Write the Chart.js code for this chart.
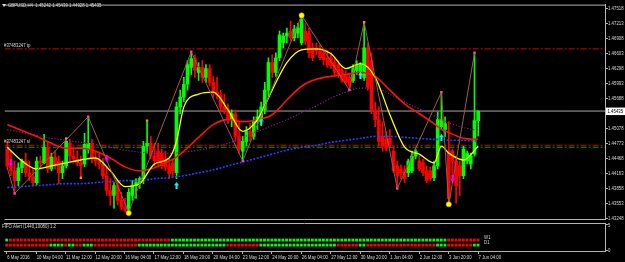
<!DOCTYPE html>
<html><head><meta charset="utf-8">
<script src="https://cdn.jsdelivr.net/npm/chart.js@4.4.1/dist/chart.umd.min.js"></script>
<style>
html,body{margin:0;padding:0;background:#000;width:625px;height:262px;overflow:hidden;}
canvas{position:absolute;left:0;}
#main{top:0;}
#sub{top:219px;}
</style></head><body>
<canvas id="main" width="625" height="224"></canvas>
<canvas id="sub" width="625" height="43"></canvas>
<script>
// ---------------- DATA ----------------
const symbol = "GBPUSD,H4";
const ticket = "37483247";
const indicatorName = "FIFO Alert (1440,10080) 1.2";
const rowNames = ["W1", "D1"];
const rowLevels = [2, 1];
const subTicks = [0, 5];

const opens = [1.4466,1.4432,1.4422,1.4402,1.4428,1.4442,1.4418,1.4410,1.4398,1.4442,
1.4438,1.4470,1.4426,1.4450,1.4442,1.4418,1.4432,1.4478,1.4452,1.4446,
1.4438,1.4436,1.4466,1.4478,1.4446,1.4442,1.4436,1.4412,1.4382,1.4372,
1.4392,1.4362,1.4348,1.4342,1.4372,1.4392,1.4398,1.4406,1.4472,1.4478,
1.4452,1.4462,1.4458,1.4446,1.4432,1.4438,1.4418,1.4552,1.4572,1.4598,
1.4632,1.4650,1.4622,1.4632,1.4612,1.4630,1.4602,1.4582,1.4576,1.4552,
1.4546,1.4526,1.4538,1.4492,1.4462,1.4482,1.4502,1.4492,1.4522,1.4526,
1.4546,1.4586,1.4642,1.4622,1.4652,1.4682,1.4696,1.4706,1.4692,1.4702,
1.4682,1.4706,1.4702,1.4672,1.4672,1.4666,1.4662,1.4652,1.4652,1.4642,
1.4638,1.4626,1.4618,1.4612,1.4606,1.4626,1.4622,1.4612,1.4672,1.4646,
1.4546,1.4526,1.4492,1.4486,1.4488,1.4462,1.4432,1.4426,1.4422,1.4418,
1.4422,1.4452,1.4442,1.4438,1.4422,1.4422,1.4408,1.4432,1.4512,1.4506,
1.4462,1.4462,1.4442,1.4432,1.4412,1.4442,1.4436,1.4456,1.45242];
const highs = [1.4482,1.4462,1.4442,1.4438,1.4446,1.4458,1.4442,1.4426,1.4450,1.4452,
1.4496,1.4482,1.4458,1.4462,1.4452,1.4442,1.4488,1.4486,1.4466,1.4462,
1.4452,1.4498,1.4532,1.4486,1.4462,1.4458,1.4448,1.4432,1.4406,1.4398,
1.4402,1.4378,1.4366,1.4386,1.4402,1.4406,1.4410,1.4482,1.4524,1.4492,
1.4478,1.4478,1.4466,1.4462,1.4446,1.4446,1.4562,1.4586,1.4612,1.4646,
1.4664,1.4658,1.4642,1.4646,1.4638,1.4638,1.4614,1.4612,1.4586,1.4578,
1.4558,1.4546,1.4546,1.4522,1.4492,1.4512,1.4518,1.4532,1.4546,1.4562,
1.4602,1.4652,1.4658,1.4662,1.4706,1.4702,1.4712,1.4726,1.4718,1.4722,
1.4738,1.4722,1.4712,1.4682,1.4682,1.4678,1.4670,1.4666,1.4662,1.4652,
1.4646,1.4634,1.4626,1.4618,1.4638,1.4646,1.4642,1.4724,1.4682,1.4662,
1.4562,1.4552,1.4522,1.4502,1.4506,1.4472,1.4442,1.4434,1.4432,1.4446,
1.4462,1.4466,1.4452,1.4446,1.4432,1.4430,1.4442,1.4542,1.4582,1.4532,
1.4522,1.4466,1.4452,1.4442,1.4472,1.4462,1.4458,1.4662,1.45439];
const lows = [1.4426,1.4412,1.4376,1.4392,1.4418,1.4410,1.4402,1.4392,1.4394,1.4428,
1.4436,1.4418,1.4422,1.4426,1.4396,1.4406,1.4428,1.4442,1.4438,1.4432,
1.4408,1.4430,1.4458,1.4438,1.4432,1.4426,1.4406,1.4372,1.4352,1.4346,
1.4352,1.4342,1.4338,1.4338,1.4362,1.4366,1.4386,1.4396,1.4458,1.4446,
1.4432,1.4430,1.4426,1.4422,1.4406,1.4410,1.4406,1.4538,1.4562,1.4586,
1.4618,1.4612,1.4606,1.4602,1.4602,1.4594,1.4572,1.4568,1.4542,1.4538,
1.4518,1.4512,1.4482,1.4458,1.4442,1.4472,1.4482,1.4486,1.4506,1.4514,
1.4538,1.4572,1.4612,1.4614,1.4646,1.4672,1.4682,1.4686,1.4686,1.4692,
1.4678,1.4678,1.4652,1.4646,1.4658,1.4648,1.4638,1.4632,1.4630,1.4614,
1.4612,1.4602,1.4598,1.4586,1.4602,1.4618,1.4612,1.4606,1.4586,1.4538,
1.4512,1.4472,1.4462,1.4462,1.4470,1.4418,1.4386,1.4406,1.4398,1.4410,
1.4418,1.4446,1.4422,1.4412,1.4398,1.4402,1.4402,1.4426,1.4506,1.4492,
1.4354,1.4412,1.4356,1.4372,1.4406,1.4436,1.4426,1.4452,1.44928];
const closes = [1.4432,1.4422,1.4402,1.4428,1.4442,1.4418,1.4410,1.4398,1.4442,1.4438,
1.4470,1.4426,1.4450,1.4434,1.4418,1.4432,1.4482,1.4452,1.4446,1.4438,
1.4432,1.4476,1.4478,1.4446,1.4442,1.4436,1.4412,1.4382,1.4372,1.4392,
1.4362,1.4348,1.4342,1.4378,1.4392,1.4398,1.4406,1.4472,1.4478,1.4452,
1.4442,1.4438,1.4432,1.4430,1.4416,1.4422,1.4552,1.4572,1.4598,1.4638,
1.4650,1.4626,1.4632,1.4612,1.4630,1.4602,1.4582,1.4576,1.4552,1.4546,
1.4526,1.4538,1.4492,1.4466,1.4482,1.4502,1.4492,1.4522,1.4532,1.4552,
1.4586,1.4642,1.4622,1.4652,1.4698,1.4696,1.4702,1.4692,1.4710,1.4712,
1.4730,1.4686,1.4662,1.4652,1.4666,1.4652,1.4648,1.4638,1.4636,1.4622,
1.4618,1.4606,1.4602,1.4596,1.4630,1.4638,1.4638,1.4672,1.4592,1.4546,
1.4526,1.4482,1.4472,1.4468,1.4476,1.4422,1.4412,1.4418,1.4406,1.4442,
1.4452,1.4462,1.4426,1.4418,1.4402,1.4406,1.4432,1.4526,1.4526,1.4518,
1.4366,1.4442,1.4392,1.4412,1.4466,1.4458,1.4452,1.4524,1.45435];

// moving averages read at sample bars
const maBars    = [0,4,8,12,16,20,24,28,32,36,40,44,46,48,52,56,60,64,68,72,76,80,84,88,92,96,100,104,108,112,116,118,120,124,128];
const yellowMA  = [1.4470,1.4442,1.4426,1.4432,1.4438,1.4444,1.4448,1.4422,1.4390,1.4396,1.4436,1.4448,1.4482,1.4552,1.4578,1.4582,1.4546,1.4502,1.4526,1.4586,1.4642,1.4668,1.4670,1.4660,1.4630,1.4640,1.4612,1.4536,1.4470,1.4456,1.4438,1.4472,1.4458,1.4444,1.4472];
const redMA     = [1.4516,1.4504,1.4492,1.4478,1.4468,1.4468,1.4462,1.4448,1.4430,1.4422,1.4428,1.4442,1.4450,1.4462,1.4490,1.4516,1.4526,1.4522,1.4526,1.4536,1.4566,1.4594,1.4608,1.4614,1.4618,1.4622,1.4614,1.4586,1.4558,1.4538,1.4518,1.4506,1.4500,1.4488,1.4486];
const purpleMA  = [1.4506,1.4500,1.4494,1.4488,1.4484,1.4480,1.4476,1.4470,1.4464,1.4460,1.4458,1.4458,1.4458,1.4460,1.4464,1.4470,1.4478,1.4490,1.4502,1.4514,1.4526,1.4540,1.4554,1.4570,1.4582,1.4590,1.4590,1.4578,1.4562,1.4548,1.4534,1.4526,1.4520,1.4510,1.4504];
const blueMA    = [1.4388,1.4390,1.4392,1.4394,1.4396,1.4396,1.4398,1.4400,1.4402,1.4402,1.4406,1.4408,1.4410,1.4412,1.4418,1.4424,1.4432,1.4440,1.4448,1.4456,1.4464,1.4470,1.4474,1.4480,1.4484,1.4488,1.4492,1.4492,1.4490,1.4488,1.4486,1.4486,1.4484,1.4484,1.4482];

// zigzag
const zzBars   = [0,2,22,33,50,64,80,93,97,106,118,120,127];
const zzValues = [1.4428,1.4376,1.4532,1.4338,1.4664,1.4442,1.4738,1.4586,1.4724,1.4386,1.4582,1.4354,1.4662];

// markers
const yellowDotBars = [33,80,120];
const yellowDotVals = [1.4336,1.4738,1.4354];
const pinkDotBars = [2,22,50,64,93,106,118,127];
const pinkDotVals = [1.4376,1.4532,1.4664,1.4442,1.4586,1.4386,1.4582,1.4662];
const orangeDotBars = [16,20,38,97];
const orangeDotVals = [1.4488,1.4408,1.4524,1.4724];
const upArrowBars = [46,69,96,118];
const upArrowVals = [1.4392,1.4522,1.4616,1.4490];
const downArrowBars = [1,27,121];
const downArrowVals = [1.4438,1.4448,1.4406];

// order levels
const tpLevel = 1.4670;
const slLevel = 1.4474;
const openLevel = 1.4470;

// axis labels
const priceTicks = [1.47518,1.47213,1.46908,1.46603,1.46298,1.45993,1.45688,1.45383,1.45078,1.44773,1.44468,1.44163,1.43858,1.43553,1.43248];
const timeLabels = ["6 May 2016","10 May 04:00","11 May 12:00","12 May 20:00","16 May 04:00","17 May 12:00","18 May 20:00","20 May 04:00","23 May 12:00","24 May 20:00","26 May 04:00","27 May 12:00","30 May 20:00","1 Jun 04:00","2 Jun 12:00","3 Jun 20:00","7 Jun 04:00"];
const timeLabelStep = 8;

// indicator states (1 = up/green, 0 = down/red)
const w1State = "1 0000000000 0000000000 0000000000 0000000000 0000 1111111111 1111111111 1111111111 1111111111 1111111111 1111111111 1111111111 11111 000000000";
const d1State = "0000000000 00 1111 0 11 00 111 0000000000 00 1111111111 1111111111 1111 000000000 1111111111 1111111111 1 000000 11 0000000000 000000000 111 0000000 11";

// ---------------- RENDER ----------------
const FONT = "'Liberation Sans',Arial,sans-serif";
const FSIZE = 6;
const SX = 0.72;
const TXT = '#d8d8d8';
const FRAME = '#b4b4b4';
const X_MIN = -0.73, X_MAX = 162.47;
Chart.defaults.font.family = FONT;
Chart.defaults.animation = false;

const bars = opens.map((_, i) => i);
const lastBar = bars.length - 1;
const lastClose = closes[lastBar];
const candleColors = bars.map(i => closes[i] >= opens[i] ? '#00ff00' : '#ff0000');
const pts = (xs, ys) => xs.map((x, i) => ({x, y: ys[i]}));
const flat = v => [{x: X_MIN, y: v}, {x: X_MAX, y: v}];
const states = s => s.replace(/ /g, '').split('').map(Number);

function txt(ctx, s, x, y, color) {
  ctx.save();
  ctx.translate(x, y); ctx.scale(SX, 1);
  ctx.font = `${FSIZE}px ${FONT}`; ctx.textBaseline = 'middle'; ctx.textAlign = 'left';
  ctx.fillStyle = color || TXT; ctx.fillText(s, 0, 0);
  ctx.restore();
}

function arrowImg(color, up) {
  const c = document.createElement('canvas'); c.width = 5; c.height = 7;
  const g = c.getContext('2d'); g.fillStyle = color; g.beginPath();
  if (up) { g.moveTo(2.5, 0); g.lineTo(5, 3.3); g.lineTo(0, 3.3); }
  else { g.moveTo(2.5, 7); g.lineTo(5, 3.7); g.lineTo(0, 3.7); }
  g.closePath(); g.fill();
  if (up) g.fillRect(1.5, 3, 2, 4); else g.fillRect(1.5, 0, 2, 4);
  return c;
}

const levelLine = (v, color, dash, order) => ({type: 'line', data: flat(v), borderColor: color, borderWidth: 1, borderDash: dash, pointRadius: 0, order});
const maLine = (ys, color, w, dash, order) => ({type: 'line', data: pts(maBars, ys), borderColor: color, borderWidth: w, borderDash: dash, pointRadius: 0, cubicInterpolationMode: 'monotone', order});
const markers = (xs, ys, opts, order) => Object.assign({type: 'line', showLine: false, data: pts(xs, ys), order, pointBorderWidth: 0}, opts);

const yAxisOpts = (min, max, ticks) => ({
  type: 'linear', position: 'right', min, max,
  afterBuildTicks: s => { s.ticks = ticks.map(v => ({value: v})); },
  afterFit: s => { s.width = 20; s.paddingTop = 0; s.paddingBottom = 0; },
  grid: {drawOnChartArea: false, drawTicks: true, tickLength: 3, color: FRAME},
  border: {display: true, color: FRAME},
  ticks: {display: false}
});

const mainDecor = {
  id: 'mainDecor',
  afterDraw(chart) {
    const {ctx, chartArea: a, scales: {y}} = chart;
    ctx.save();
    ctx.strokeStyle = FRAME; ctx.lineWidth = 1;
    ctx.beginPath();
    ctx.moveTo(a.left, a.top + 0.5); ctx.lineTo(a.right, a.top + 0.5);
    ctx.moveTo(a.left, a.bottom + 0.5); ctx.lineTo(a.right, a.bottom + 0.5);
    ctx.stroke();
    ctx.fillStyle = TXT;
    ctx.beginPath(); ctx.moveTo(2, 4); ctx.lineTo(6, 4); ctx.lineTo(4, 7); ctx.closePath(); ctx.fill();
    ctx.restore();
    const f = v => v.toFixed(5);
    txt(ctx, `${symbol}  ${f(opens[lastBar])} ${f(highs[lastBar])} ${f(lows[lastBar])} ${f(closes[lastBar])}`, 8, 5.5);
    txt(ctx, `#${ticket} tp`, 4, y.getPixelForValue(tpLevel) - 3.5);
    txt(ctx, `#${ticket} sl`, 4, y.getPixelForValue(slLevel) - 3.5);
    priceTicks.forEach(v => txt(ctx, f(v), a.right + 3, y.getPixelForValue(v)));
    const py = y.getPixelForValue(lastClose);
    ctx.save(); ctx.fillStyle = '#ffffff'; ctx.fillRect(a.right + 1, py - 3.5, 20, 7.5); ctx.restore();
    txt(ctx, f(lastClose), a.right + 2.5, py + 0.3, '#000000');
  }
};

new Chart(document.getElementById('main'), {
  type: 'bar',
  data: {datasets: [
    levelLine(tpLevel, '#d80000', [6, 2, 2, 2], 40),
    levelLine(slLevel, '#d80000', [6, 2, 2, 2], 40),
    levelLine(openLevel, '#00a800', [6, 2, 2, 2], 40),
    levelLine(lastClose, '#a8a8a8', [], 40),
    {type: 'bar', data: bars.map(i => ({x: i, y: [lows[i], highs[i]]})), backgroundColor: candleColors, barThickness: 1, grouped: false, minBarLength: 1, borderWidth: 0, order: 30},
    {type: 'bar', data: bars.map(i => ({x: i, y: [opens[i], closes[i]]})), backgroundColor: candleColors, barThickness: 3, grouped: false, minBarLength: 1, borderWidth: 0, order: 29},
    maLine(blueMA, '#2a3cff', 1.6, [2, 1.5], 20),
    maLine(purpleMA, '#8a1a8a', 1.2, [1.2, 1.8], 19),
    maLine(redMA, '#ff1010', 1.6, [], 18),
    maLine(yellowMA, '#ffff00', 1.3, [], 17),
    {type: 'line', data: pts(zzBars, zzValues), borderColor: '#9b5b4b', borderWidth: 1, pointRadius: 0, tension: 0, order: 16},
    markers(pinkDotBars, pinkDotVals, {pointStyle: 'rect', pointRadius: 1.7, pointBackgroundColor: '#ff40a8'}, 6),
    markers(orangeDotBars, orangeDotVals, {pointStyle: 'rect', pointRadius: 1.7, pointBackgroundColor: '#ff8c1a'}, 6),
    markers(yellowDotBars, yellowDotVals, {pointStyle: 'circle', pointRadius: 2.6, pointBackgroundColor: '#ffff00', pointBorderColor: '#d09000', pointBorderWidth: 0.6}, 5),
    markers(upArrowBars, upArrowVals, {pointStyle: arrowImg('#00ffff', true)}, 4),
    markers(downArrowBars, downArrowVals, {pointStyle: arrowImg('#ff00ff', false)}, 4)
  ]},
  options: {
    responsive: false, devicePixelRatio: 1, events: [],
    layout: {padding: {top: 1, bottom: 5, left: 0, right: 0}},
    plugins: {legend: {display: false}, tooltip: {enabled: false}},
    scales: {
      x: {type: 'linear', min: X_MIN, max: X_MAX, display: false, offset: false},
      y: yAxisOpts(1.4324, 1.4760, priceTicks)
    }
  },
  plugins: [mainDecor]
});

const w1 = states(w1State), d1 = states(d1State);
const subDecor = {
  id: 'subDecor',
  afterDraw(chart) {
    const {ctx, chartArea: a, scales: {x, y}} = chart;
    ctx.save();
    ctx.strokeStyle = FRAME; ctx.lineWidth = 1;
    ctx.beginPath(); ctx.moveTo(a.left, a.top + 0.5); ctx.lineTo(a.right, a.top + 0.5); ctx.stroke();
    ctx.restore();
    txt(ctx, indicatorName, 2, a.top + 3.5);
    const lx = x.getPixelForValue(lastBar) + 6;
    rowNames.forEach((n, k) => txt(ctx, n, lx, y.getPixelForValue(rowLevels[k]) - 3));
    subTicks.forEach(v => txt(ctx, String(v), a.right + 3, y.getPixelForValue(v)));
    timeLabels.forEach((s, k) => txt(ctx, s, x.getPixelForValue(k * timeLabelStep) + 0.5, a.bottom + 6.5));
  }
};

new Chart(document.getElementById('sub'), {
  type: 'scatter',
  data: {datasets: [
    {data: bars.map(i => ({x: i, y: rowLevels[0]})), pointStyle: 'rect', pointRadius: 2, pointBorderWidth: 0, pointBackgroundColor: w1.map(s => s ? '#00ff00' : '#ff0000')},
    {data: bars.map(i => ({x: i, y: rowLevels[1]})), pointStyle: 'rect', pointRadius: 2, pointBorderWidth: 0, pointBackgroundColor: d1.map(s => s ? '#00ff00' : '#ff0000')}
  ]},
  options: {
    responsive: false, devicePixelRatio: 1, events: [],
    layout: {padding: {top: 2, bottom: 0, left: 0, right: 0}},
    plugins: {legend: {display: false}, tooltip: {enabled: false}},
    scales: {
      x: {type: 'linear', min: X_MIN, max: X_MAX, position: 'bottom', offset: false,
        afterBuildTicks: s => { s.ticks = timeLabels.map((_, k) => ({value: k * timeLabelStep})); },
        afterFit: s => { s.height = 11; s.paddingLeft = 0; s.paddingRight = 0; },
        grid: {drawOnChartArea: false, drawTicks: true, tickLength: 3, color: FRAME},
        border: {display: true, color: FRAME},
        ticks: {display: false}
      },
      y: yAxisOpts(-0.17, 5.39, subTicks)
    }
  },
  plugins: [subDecor]
});
</script>
</body></html>
